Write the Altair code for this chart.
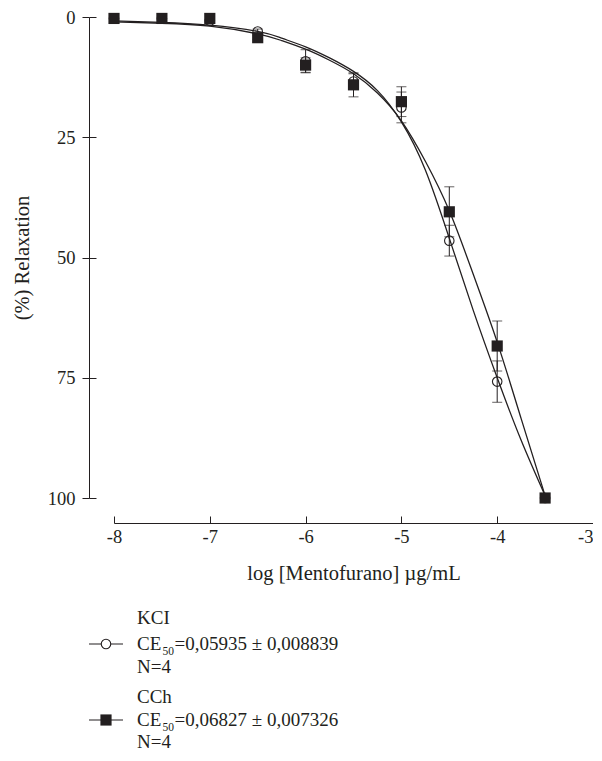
import altair as alt
import pandas as pd

# ---- data ----
doses = [-8, -7.5, -7, -6.5, -6, -5.5, -5, -4.5, -4, -3.5]
kcl_mean = [0.3, 0.3, 0.8, 3.0, 9.2, 13.4, 18.8, 46.5, 75.8, 100]
kcl_sem = [0, 0, 0.3, 0.5, 2.4, 1.6, 3.2, 3.2, 4.3, 0]
cch_mean = [0.3, 0.3, 0.3, 4.3, 10.0, 14.1, 17.6, 40.5, 68.4, 100]
cch_sem = [0, 0, 0, 0.4, 1.5, 2.5, 3.1, 5.2, 5.2, 0]

fit_x = [-8, -7.5, -7, -6.5, -6.25, -6, -5.75, -5.5, -5.25, -5, -4.75, -4.5, -4.25, -4, -3.75, -3.5]
kcl_fit = [0.8, 1.1, 1.7, 3.0, 4.4, 6.2, 8.5, 11.3, 15.3, 21.8, 31.8, 46.0, 61.0, 75.0, 88.0, 99.5]
cch_fit = [1.0, 1.3, 1.9, 3.5, 4.9, 6.7, 9.0, 11.8, 15.8, 21.6, 30.0, 40.3, 53.5, 67.6, 83.5, 99.5]

x_ticks = [-8, -7, -6, -5, -4, -3]
y_ticks = [0, 25, 50, 75, 100]

x_title = "log [Mentofurano] µg/mL"
y_title = "(%) Relaxation"
legend_names = ["KCI", "CCh"]
legend_ce = ["=0,05935 ± 0,008839", "=0,06827 ± 0,007326"]
legend_n = ["N=4", "N=4"]

# ---- style ----
INK = "#231f20"
FONT = "Liberation Serif"
FS = 18.5      # tick labels
LFS = 19       # legend text
TFS = 20.5     # axis titles
W, H = 479, 481

pts = pd.DataFrame({
    "dose": doses * 2,
    "mean": kcl_mean + cch_mean,
    "sem": kcl_sem + cch_sem,
    "series": ["KCI"] * len(doses) + ["CCh"] * len(doses),
})
pts["lo"] = pts["mean"] - pts["sem"]
pts["hi"] = pts["mean"] + pts["sem"]
err = pts[pts["sem"] > 0]

fits = pd.DataFrame({
    "dose": fit_x * 2,
    "val": kcl_fit + cch_fit,
    "series": ["KCI"] * len(fit_x) + ["CCh"] * len(fit_x),
})

xs = alt.Scale(domain=[-8, -3], nice=False, zero=False)
ys = alt.Scale(domain=[0, 100], reverse=True, nice=False, zero=False)

last_x = x_ticks[-1]
main_x_axis = alt.Axis(orient="bottom", offset=25, values=x_ticks, ticks=False, tickSize=0,
                       labelExpr="'' + datum.value", labelPadding=4, labelFontSize=FS,
                       labelAlign={"condition": {"test": f"datum.value == {last_x}",
                                                 "value": "right"}, "value": "center"},
                       labelFont=FONT, labelColor=INK, domainColor=INK, domainWidth=1,
                       titleFont=FONT, titleFontSize=TFS, titleFontWeight="normal",
                       titleColor=INK, titlePadding=18, grid=False)
main_y_axis = alt.Axis(orient="left", offset=25, values=y_ticks, tickSize=7, tickColor=INK,
                       tickWidth=1, labelPadding=7, labelFontSize=FS, labelFont=FONT,
                       labelColor=INK, domainColor=INK, domainWidth=1,
                       titleFont=FONT, titleFontSize=TFS, titleFontWeight="normal",
                       titleColor=INK, titlePadding=15, grid=False)
tick_x_axis = alt.Axis(orient="bottom", offset=18, values=x_ticks, domain=False, labels=False,
                       tickSize=7, tickColor=INK, tickWidth=1, grid=False)
tick_y_axis = alt.Axis(orient="left", offset=18, values=y_ticks, domain=False, labels=False,
                       tickSize=7, tickColor=INK, tickWidth=1, grid=False)

kcl_curve = alt.Chart(fits[fits.series == "KCI"]).mark_line(
    interpolate="natural", color=INK, strokeWidth=1.3).encode(
    x=alt.X("dose:Q", scale=xs, axis=main_x_axis, title=x_title),
    y=alt.Y("val:Q", scale=ys, axis=main_y_axis, title=y_title),
)
cch_curve = alt.Chart(fits[fits.series == "CCh"]).mark_line(
    interpolate="natural", color=INK, strokeWidth=1.3).encode(
    x=alt.X("dose:Q", scale=xs, axis=tick_x_axis, title=None),
    y=alt.Y("val:Q", scale=ys, axis=tick_y_axis, title=None),
)

bars = alt.Chart(err).mark_rule(color=INK, strokeWidth=1).encode(
    x=alt.X("dose:Q", scale=xs, axis=None),
    y=alt.Y("lo:Q", scale=ys, axis=None),
    y2="hi:Q",
)
cap_lo = alt.Chart(err).mark_tick(orient="horizontal", color=INK, size=10, thickness=1).encode(
    x=alt.X("dose:Q", scale=xs, axis=None),
    y=alt.Y("lo:Q", scale=ys, axis=None),
)
cap_hi = alt.Chart(err).mark_tick(orient="horizontal", color=INK, size=10, thickness=1).encode(
    x=alt.X("dose:Q", scale=xs, axis=None),
    y=alt.Y("hi:Q", scale=ys, axis=None),
)
circles = alt.Chart(pts[pts.series == "KCI"]).mark_point(
    shape="circle", filled=False, size=90, color=INK, strokeWidth=1.1, opacity=1).encode(
    x=alt.X("dose:Q", scale=xs, axis=None),
    y=alt.Y("mean:Q", scale=ys, axis=None),
)
squares = alt.Chart(pts[pts.series == "CCh"]).mark_point(
    shape="square", filled=True, size=125, color=INK, opacity=1).encode(
    x=alt.X("dose:Q", scale=xs, axis=None),
    y=alt.Y("mean:Q", scale=ys, axis=None),
)

# ---- custom legend (positions relative to plot area origin) ----
one = alt.InlineData(values=[{}])
TX, SUBX, RESTX = 23, 48.5, 60.5
SYM0, SYM1, SYMC = -25, 9, -8
rows = [(607, 627, 633, 656), (686, 703, 709, 731)]
legend_layers = []
for i, (yname, ysym, yce, yn) in enumerate(rows):
    legend_layers.append(alt.Chart(one).mark_rule(color=INK, strokeWidth=1.1).encode(
        x=alt.value(SYM0), x2=alt.value(SYM1), y=alt.value(ysym)))
    if i == 0:
        legend_layers.append(alt.Chart(one).mark_point(
            shape="circle", filled=True, fill="white", size=90, stroke=INK, strokeWidth=1.1,
            opacity=1).encode(x=alt.value(SYMC), y=alt.value(ysym)))
    else:
        legend_layers.append(alt.Chart(one).mark_point(
            shape="square", filled=True, size=125, color=INK, opacity=1).encode(
            x=alt.value(SYMC), y=alt.value(ysym)))
    for txt, xx, yy, fs in [(legend_names[i], TX, yname, LFS), ("CE", TX, yce, LFS),
                            ("50", SUBX, yce + 4.5, 11.5), (legend_ce[i], RESTX, yce, LFS),
                            (legend_n[i], TX, yn, LFS)]:
        legend_layers.append(alt.Chart(one).mark_text(
            text=txt, font=FONT, fontSize=fs, color=INK, align="left",
            baseline="alphabetic").encode(x=alt.value(xx), y=alt.value(yy)))

chart = alt.layer(
    kcl_curve, cch_curve, bars, cap_lo, cap_hi, circles, squares, *legend_layers
).resolve_axis(x="independent", y="independent").properties(
    width=W, height=H,
    autosize=alt.AutoSizeParams(type="none"),
    padding={"left": 106, "top": 9, "right": 0, "bottom": 255},
    background="white",
).configure_view(strokeWidth=0)

chart.save("out.html", embed_options={"renderer": "svg", "actions": False})
